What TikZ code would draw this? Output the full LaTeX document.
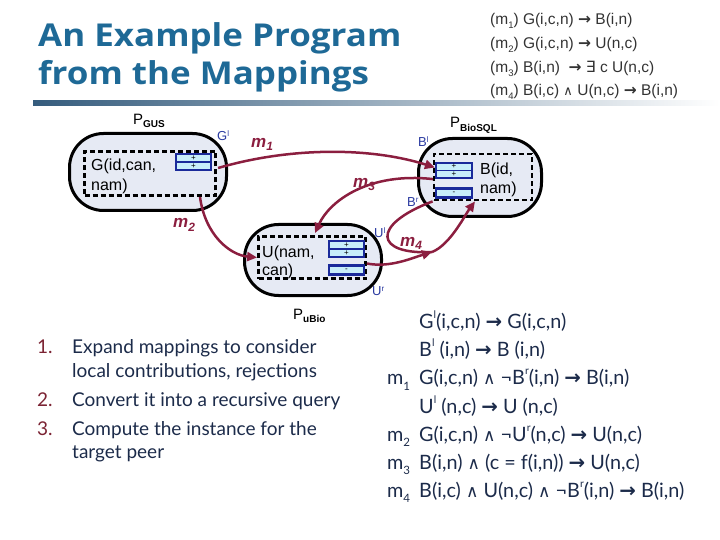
\documentclass[tikz,border=0pt]{standalone}
\usepackage{fontspec}
\setmainfont{Lato}
\newfontfamily\arial{Liberation Sans}
\newfontfamily\dejavu{DejaVu Sans}
\newfontfamily\titlefont{Open Sans}
\usetikzlibrary{arrows.meta}
\definecolor{titleblue}{HTML}{1E6996}
\definecolor{mred}{HTML}{8B1E3F}
\definecolor{peerfill}{HTML}{E6EAF4}
\definecolor{tblfill}{HTML}{C8EEFA}
\definecolor{tblblue}{HTML}{1A2A9A}
\definecolor{lblblue}{HTML}{2A3AA0}
\definecolor{navy}{HTML}{1C2B4A}
\definecolor{numred}{HTML}{7B2333}
\definecolor{dgray}{HTML}{333333}
\definecolor{barL}{HTML}{355C7D}
\newcommand\lsub[1]{\raisebox{-0.25em}{\fontsize{9.5}{9.5}\selectfont #1}}
\newcommand\lsup[1]{\raisebox{0.5em}{\fontsize{10.5}{10.5}\selectfont #1}}
\newcommand\rsub[1]{\raisebox{-0.3em}{\fontsize{11.5}{11.5}\selectfont #1}}
\newcommand\arr{{\dejavu\bfseries →}}
\newcommand\wedgesym{{\dejavu\mdseries\fontsize{17}{17}\selectfont ∧}}
\newcommand\dfont{\arial\fontsize{16}{19}\selectfont}
\newcommand\ttl[1]{\scalebox{1.11}[1]{#1}}
\begin{document}
\begin{tikzpicture}[x=1pt,y=-1pt,
  peer/.style={draw=black, line width=3pt, fill=peerfill, rounded corners=34pt, inner sep=0},
  dbox/.style={draw=black, line width=2.8pt, dash pattern=on 5pt off 3pt, inner sep=0},
  tbl/.style={draw=tblblue, line width=2.2pt, fill=tblfill, inner sep=0, align=center,
    font=\arial\fontsize{8}{8}\selectfont},
  conn/.style={draw=mred, line width=2.5pt},
  tip/.style={-{Triangle[length=10pt,width=9pt]}},
  txt/.style={anchor=base west, inner sep=0},
  dtxt/.style={txt, font=\dfont},
  lbl/.style={txt, font=\arial\fontsize{13}{13}\selectfont, text=lblblue},
  mlbl/.style={txt, font=\arial\bfseries\itshape\fontsize{17}{17}\selectfont, text=mred},
  plbl/.style={txt, font=\arial\fontsize{15}{15}\selectfont},
  maptxt/.style={txt, font=\arial\fontsize{15.5}{15.5}\selectfont, text=dgray},
  listnum/.style={txt, font=\fontsize{19}{19}\selectfont, text=numred},
  listtxt/.style={txt, font=\fontsize{19}{19}\selectfont, text=navy},
  ruletxt/.style={txt, font=\fontsize{19.8}{19.8}\selectfont, text=navy},
  titletxt/.style={txt, font=\titlefont\bfseries\fontsize{31.5}{31.5}\selectfont, text=titleblue}
]
\useasboundingbox (0,0) rectangle (720,540);
% title
\node[titletxt] (t1) at (38,47) {\ttl{An Example Program}};
\node[titletxt] (t2) at (38,85) {\ttl{from the Mappings}};
\shade[left color=barL, right color=white] (33,101) rectangle (720,106);
% mappings top right
\node[maptxt] (mp1) at (490,25) {(m\lsub{1}) G(i,c,n) \arr\ B(i,n)};
\node[maptxt] (mp2) at (490,49) {(m\lsub{2}) G(i,c,n) \arr\ U(n,c)};
\node[maptxt] (mp3) at (490,73) {(m\lsub{3}) B(i,n) \ \arr\ {\dejavu ∃} c U(n,c)};
\node[maptxt] (mp4) at (490,96) {(m\lsub{4}) B(i,c) {\dejavu\fontsize{13}{13}\selectfont ∧} U(n,c) \arr\ B(i,n)};
% GUS peer
\node[peer, minimum width=157pt, minimum height=77pt] (gus) at (148,172) {};
\node[dbox, minimum width=131pt, minimum height=44pt] (gusd) at (150,173.5) {};
\node[tbl, minimum width=35pt, minimum height=16pt] (gtab) at (193.5,162) {+\\+};
\draw[tblblue, line width=1.2pt] (gtab.west) -- (gtab.east);
\node[dtxt] (gt1) at (91,171) {G(id,can,};
\node[dtxt] (gt2) at (91,191) {nam)};
\node[plbl] (pgus) at (133,125) {P\raisebox{-3pt}{\fontsize{10}{10}\selectfont\bfseries GUS}};
\node[lbl] (gl) at (217,141) {G\raisebox{4pt}{\fontsize{8}{8}\selectfont l}};
% BioSQL peer
\node[peer, minimum width=123pt, minimum height=78pt] (bio) at (480,177.5) {};
\node[dbox, minimum width=98pt, minimum height=46pt] (biod) at (483,177) {};
\node[tbl, minimum width=36pt, minimum height=15pt] (btab) at (454,170.5) {+\\+};
\draw[tblblue, line width=1.2pt] (btab.west) -- (btab.east);
\node[tbl, minimum width=36pt, minimum height=9pt] (bneg) at (454,193) {-};
\node[dtxt] (bt1) at (480,175) {B(id,};
\node[dtxt] (bt2) at (480,194) {nam)};
\node[plbl] (pbio) at (450,128) {P\raisebox{-4pt}{\fontsize{10}{10}\selectfont\bfseries BioSQL}};
\node[lbl] (bl) at (418,147) {B\raisebox{4pt}{\fontsize{8}{8}\selectfont l}};
\node[lbl] (br) at (407,207) {B\raisebox{4pt}{\fontsize{8}{8}\selectfont r}};
% uBio peer
\node[peer, minimum width=137pt, minimum height=71pt] (ubio) at (313,260) {};
\node[dbox, minimum width=107pt, minimum height=42pt] (ubiod) at (312,257.5) {};
\node[tbl, minimum width=35pt, minimum height=16pt] (utab) at (346.5,249) {+\\+};
\draw[tblblue, line width=1.2pt] (utab.west) -- (utab.east);
\node[tbl, minimum width=35pt, minimum height=9pt] (uneg) at (346.5,270) {-};
\node[dtxt] (ut1) at (262,257) {U(nam,};
\node[dtxt] (ut2) at (262,275) {can)};
\node[plbl] (pubio) at (293,319) {P\raisebox{-3pt}{\fontsize{10}{10}\selectfont\bfseries uBio}};
\node[lbl] (ul) at (374,237) {U\raisebox{4pt}{\fontsize{8}{8}\selectfont l}};
\node[lbl] (ur) at (372,295) {U\raisebox{4pt}{\fontsize{8}{8}\selectfont r}};
% mapping labels
\node[mlbl] (m1) at (251,148) {m\raisebox{-3pt}{\fontsize{12}{12}\selectfont 1}};
\node[mlbl] (m2) at (173,228) {m\raisebox{-3pt}{\fontsize{12}{12}\selectfont 2}};
\node[mlbl] (m3) at (353,188) {m\raisebox{-3pt}{\fontsize{12}{12}\selectfont 3}};
\node[mlbl] (m4) at (400,246) {m\raisebox{-3pt}{\fontsize{12}{12}\selectfont 4}};
% connectors
\draw[conn, tip] ([xshift=6pt, yshift=-6pt]gtab.east) .. controls (290,147) and (370,147) .. ([yshift=3pt]btab.west);
\draw[conn, tip] ([xshift=-2pt]btab.south west) .. controls (370,172) and (330,200) .. ([xshift=3pt, yshift=2pt]ubiod.north);
\draw[conn, tip] ([xshift=50pt]gusd.south) .. controls (205,235) and (230,255) .. (ubiod.west);
\coordinate (j4) at (432,252);
\draw[conn] (biod.south west) .. controls (370,225) and (375,255) .. (j4);
\draw[conn, tip] ([yshift=-6pt]ubiod.east) .. controls (390,268) and (412,258) .. (j4);
\draw[conn, tip] (j4) .. controls (450,245) and (465,215) .. ([xshift=-8pt]biod.south);
% numbered list
\node[listnum] (n1) at (37,353) {1.};
\node[listtxt] (l1a) at (72,353) {Expand mappings to consider};
\node[listtxt] (l1b) at (72,377) {local contributions, rejections};
\node[listnum] (n2) at (37,406) {2.};
\node[listtxt] (l2) at (72,406) {Convert it into a recursive query};
\node[listnum] (n3) at (37,435) {3.};
\node[listtxt] (l3a) at (72,435) {Compute the instance for the};
\node[listtxt] (l3b) at (72,458) {target peer};
% rules
\node[ruletxt] (r1) at (419,328) {G\lsup{l}(i,c,n) \arr\ G(i,c,n)};
\node[ruletxt] (r2) at (419,356) {B\lsup{l} (i,n) \arr\ B (i,n)};
\node[ruletxt] (k1) at (387,384.5) {m\rsub{1}};
\node[ruletxt] (r3) at (419,384.5) {G(i,c,n) \wedgesym\ ¬B\lsup{r}(i,n) \arr\ B(i,n)};
\node[ruletxt] (r4) at (419,413) {U\lsup{l} (n,c) \arr\ U (n,c)};
\node[ruletxt] (k2) at (387,441) {m\rsub{2}};
\node[ruletxt] (r5) at (419,441) {G(i,c,n) \wedgesym\ ¬U\lsup{r}(n,c) \arr\ U(n,c)};
\node[ruletxt] (k3) at (387,469) {m\rsub{3}};
\node[ruletxt] (r6) at (419,469) {B(i,n) \wedgesym\ (c = f(i,n)) \arr\ U(n,c)};
\node[ruletxt] (k4) at (387,497) {m\rsub{4}};
\node[ruletxt] (r7) at (419,497) {B(i,c) \wedgesym\ U(n,c) \wedgesym\ ¬B\lsup{r}(i,n) \arr\ B(i,n)};
\end{tikzpicture}
\end{document}
